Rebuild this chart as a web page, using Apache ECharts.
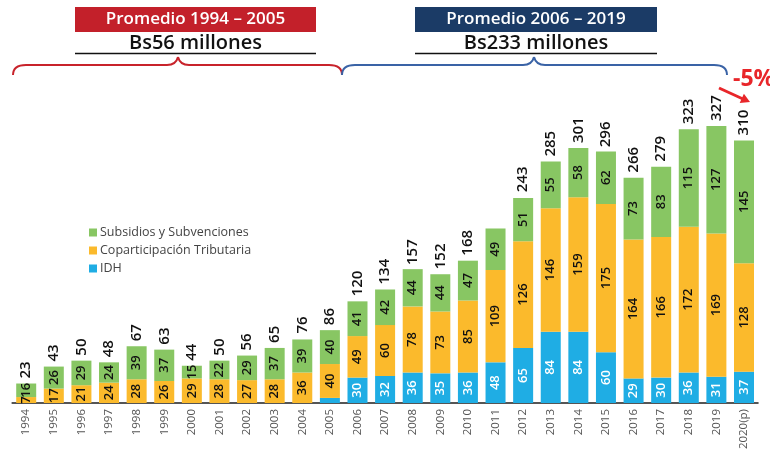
<!DOCTYPE html>
<html>
<head>
<meta charset="utf-8">
<script src="https://cdn.jsdelivr.net/npm/echarts@6/dist/echarts.min.js"></script>
<style>
  html, body { margin: 0; padding: 0; background: #fff; }
  #chart { width: 770px; height: 456px; }
</style>
</head>
<body>
<div id="chart"></div>
<script>
  var years = ['1994','1995','1996','1997','1998','1999','2000','2001','2002','2003','2004','2005','2006',
    '2007','2008','2009','2010','2011','2012','2013','2014','2015','2016','2017','2018','2019','2020(p)'];
  var idh = [0,0,0,0,0,0,0,0,0,0,0,6,30,32,36,35,36,48,65,84,84,60,29,30,36,31,37];
  var coparticipacion = [7,17,21,24,28,26,29,28,27,28,36,40,49,60,78,73,85,109,126,146,159,175,164,166,172,169,128];
  var subsidios = [16,26,29,24,39,37,15,22,29,37,39,40,41,42,44,44,47,49,51,55,58,62,73,83,115,127,145];
  var totales = [23,43,50,48,67,63,44,50,56,65,76,86,120,134,157,152,168,null,243,285,301,296,266,279,323,327,310];

  var font = '"Open Sans", "Noto Sans", sans-serif';
  var red = '#c3202a', navy = '#1b3b66';

  var myChart = echarts.init(document.getElementById('chart'));

  var inLabel = function (color, minVal) {
    return {
      show: true,
      position: 'inside',
      rotate: 90,
      color: color,
      fontFamily: font,
      fontSize: 13,
      fontWeight: 600,
      formatter: function (p) { return p.value >= minVal ? p.value : ''; }
    };
  };

  // llave horizontal: extremos x0 / x1, pico en xm
  function brace(x0, xm, x1, color) {
    var st = { stroke: color, lineWidth: 2, fill: null };
    var y = 65, yEnd = 75, yTop = 57;
    return [
      { type: 'bezierCurve', shape: { x1: x0, y1: yEnd, cpx1: x0, cpy1: y, x2: x0 + 13, y2: y }, style: st },
      { type: 'line', shape: { x1: x0 + 13, y1: y, x2: xm - 11, y2: y }, style: st },
      { type: 'bezierCurve', shape: { x1: xm - 11, y1: y, cpx1: xm - 2, cpy1: y, x2: xm, y2: yTop }, style: st },
      { type: 'bezierCurve', shape: { x1: xm, y1: yTop, cpx1: xm + 2, cpy1: y, x2: xm + 11, y2: y }, style: st },
      { type: 'line', shape: { x1: xm + 11, y1: y, x2: x1 - 13, y2: y }, style: st },
      { type: 'bezierCurve', shape: { x1: x1 - 13, y1: y, cpx1: x1, cpy1: y, x2: x1, y2: yEnd }, style: st }
    ];
  }

  var graphics = [
    // periodo 1994-2005
    { type: 'rect', shape: { x: 75, y: 7, width: 241, height: 25 }, style: { fill: red } },
    { type: 'text', x: 195.5, y: 19.5, style: { text: 'Promedio 1994 – 2005', fill: '#fff', font: '600 17px ' + font, textAlign: 'center', textVerticalAlign: 'middle' } },
    { type: 'text', x: 195.5, y: 43.5, style: { text: 'Bs56 millones', fill: '#111', font: '600 20px ' + font, textAlign: 'center', textVerticalAlign: 'middle' } },
    { type: 'line', shape: { x1: 75, y1: 53.5, x2: 316, y2: 53.5 }, style: { stroke: '#111', lineWidth: 1.6 } },
    // periodo 2006-2019
    { type: 'rect', shape: { x: 415, y: 7, width: 242, height: 25 }, style: { fill: navy } },
    { type: 'text', x: 536, y: 19.5, style: { text: 'Promedio 2006 – 2019', fill: '#fff', font: '600 17px ' + font, textAlign: 'center', textVerticalAlign: 'middle' } },
    { type: 'text', x: 536, y: 43.5, style: { text: 'Bs233 millones', fill: '#111', font: '600 20px ' + font, textAlign: 'center', textVerticalAlign: 'middle' } },
    { type: 'line', shape: { x1: 415, y1: 53.5, x2: 657, y2: 53.5 }, style: { stroke: '#111', lineWidth: 1.6 } },
    // variacion 2020
    { type: 'text', x: 733, y: 79, style: { text: '-5%', fill: '#e8262a', font: 'bold 23px ' + font, textVerticalAlign: 'middle' } },
    { type: 'line', shape: { x1: 719, y1: 88, x2: 743, y2: 99 }, style: { stroke: '#e8262a', lineWidth: 3 } },
    { type: 'polygon', shape: { points: [[750, 102], [739.7, 102.9], [743.9, 93.7]] }, style: { fill: '#e8262a' } }
  ].concat(brace(13, 178, 342, '#c8232b'), brace(342, 534, 727, '#3a63a6'));

  myChart.setOption({
    backgroundColor: '#fff',
    animation: false,
    grid: { left: 12.4, right: 12.2, top: 106.5, bottom: 53 },
    legend: {
      orient: 'vertical',
      left: 84,
      top: 221,
      itemWidth: 8,
      itemHeight: 8,
      itemGap: 5,
      icon: 'rect',
      data: ['Subsidios y Subvenciones', 'Coparticipación Tributaria', 'IDH'],
      textStyle: { fontFamily: font, fontSize: 12.5, color: '#444', padding: [0, 0, 0, -2] }
    },
    xAxis: {
      type: 'category',
      data: years,
      axisLine: { lineStyle: { color: '#555', width: 2 } },
      axisTick: { show: false },
      axisLabel: { rotate: 90, margin: 6, fontFamily: font, fontSize: 11.5, color: '#555', interval: 0 }
    },
    yAxis: {
      type: 'value',
      min: 0,
      max: 350,
      show: false,
      splitLine: { show: false }
    },
    series: [
      {
        name: 'IDH', type: 'bar', stack: 'a', data: idh, barWidth: 20, barGap: '-100%',
        itemStyle: { color: '#1fade4' },
        label: inLabel('#fff', 10)
      },
      {
        name: 'Coparticipación Tributaria', type: 'bar', stack: 'a', data: coparticipacion, barWidth: 20, barGap: '-100%',
        itemStyle: { color: '#fbba2c' },
        label: inLabel('#111', 1)
      },
      {
        name: 'Subsidios y Subvenciones', type: 'bar', stack: 'a', data: subsidios, barWidth: 20, barGap: '-100%',
        itemStyle: { color: '#88c663' },
        label: inLabel('#111', 1)
      },
      {
        name: 'Total', type: 'bar', data: totales, barWidth: 20, barGap: '-100%',
        itemStyle: { color: 'rgba(0,0,0,0)' },
        silent: true,
        label: {
          show: true,
          position: 'top',
          rotate: 90,
          align: 'left',
          verticalAlign: 'middle',
          distance: 5,
          color: '#111',
          fontFamily: font,
          fontSize: 15,
          fontWeight: 600
        }
      }
    ],
    graphic: graphics
  });
</script>
</body>
</html>
